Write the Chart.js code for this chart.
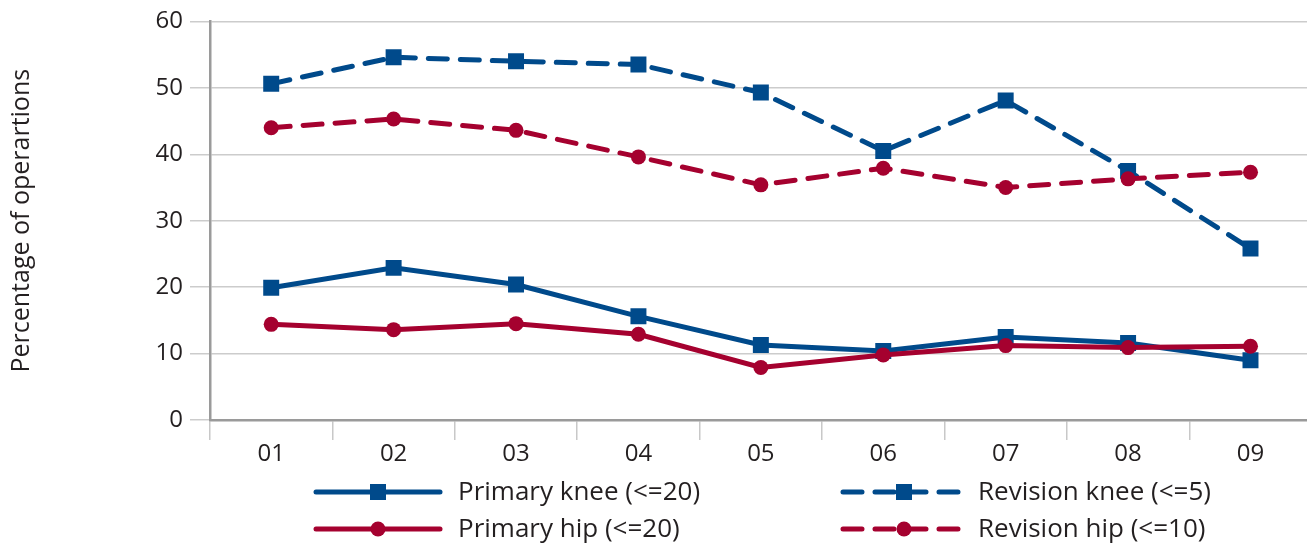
<!DOCTYPE html>

<head>
    <meta charset='UTF-8'>
    <script src="https://cdn.jsdelivr.net/npm/chart.js"></script>
    <style>
        body { margin: 0; overflow: hidden; background: #fff; }
    </style>
</head>
<title>Operations chart</title>

<body>
    <canvas id="myChart" width="1323" height="544"></canvas>
    <script>
        const years = ['01', '02', '03', '04', '05', '06', '07', '08', '09'];
        const primaryKnee = [19.9, 22.9, 20.4, 15.6, 11.3, 10.4, 12.5, 11.6, 9.0];
        const revisionKnee = [50.6, 54.6, 54.0, 53.5, 49.3, 40.5, 48.1, 37.5, 25.8];
        const primaryHip = [14.4, 13.6, 14.5, 12.9, 7.9, 9.8, 11.2, 10.9, 11.1];
        const revisionHip = [44.0, 45.3, 43.6, 39.6, 35.4, 37.9, 35.0, 36.3, 37.3];
        const seriesNames = ['Primary knee (<=20)', 'Revision knee (<=5)', 'Primary hip (<=20)', 'Revision hip (<=10)'];
        const yTitle = 'Percentage of operartions';

        const blue = '#004a8b';
        const red = '#a5012f';
        const dash = [19, 13];
        const font = "'Open Sans', 'Noto Sans', sans-serif";

        function series(label, values, color, dashed, shape, order) {
            return {
                label: label,
                data: values,
                borderColor: color,
                backgroundColor: color,
                borderWidth: 5,
                borderDash: dashed ? dash : [],
                borderCapStyle: 'round',
                pointStyle: shape,
                pointRadius: shape == 'rect' ? 11.3 : 7.5,
                pointHoverRadius: shape == 'rect' ? 11.3 : 7.5,
                pointBorderWidth: 0,
                tension: 0,
                order: order
            };
        }

        // legend drawn as two columns under the x axis
        const bottomLegend = {
            id: 'bottomLegend',
            afterDraw(chart) {
                const ctx = chart.ctx;
                const items = [
                    { x: 316, y: 492, ds: chart.data.datasets[0] },
                    { x: 843, y: 492, ds: chart.data.datasets[1] },
                    { x: 316, y: 529, ds: chart.data.datasets[2] },
                    { x: 843, y: 529, ds: chart.data.datasets[3] }
                ];
                items.forEach(it => {
                    const ds = it.ds;
                    const dashed = ds.borderDash.length > 0;
                    const len = dashed ? 115 : 124;
                    const mx = it.x + (dashed ? 61 : 62);
                    ctx.save();
                    ctx.strokeStyle = ds.borderColor;
                    ctx.lineWidth = 5;
                    ctx.lineCap = 'round';
                    ctx.setLineDash(ds.borderDash);
                    ctx.beginPath();
                    ctx.moveTo(it.x, it.y);
                    ctx.lineTo(it.x + len, it.y);
                    ctx.stroke();
                    ctx.setLineDash([]);
                    ctx.fillStyle = ds.backgroundColor;
                    ctx.beginPath();
                    if (ds.pointStyle == 'rect') {
                        const s = ds.pointRadius * Math.SQRT1_2;
                        ctx.rect(mx - s, it.y - s, 2 * s, 2 * s);
                    } else {
                        ctx.arc(mx, it.y, ds.pointRadius, 0, Math.PI * 2);
                    }
                    ctx.fill();
                    ctx.fillStyle = '#231f20';
                    ctx.font = '26px ' + font;
                    ctx.textBaseline = 'middle';
                    ctx.fillText(ds.label, it.x + (dashed ? 135 : 142), it.y + 1);
                    ctx.restore();
                });
            }
        };

        const config = {
            type: 'line',
            data: {
                labels: years,
                datasets: [
                    series(seriesNames[0], primaryKnee, blue, false, 'rect', 2),
                    series(seriesNames[1], revisionKnee, blue, true, 'rect', 2),
                    series(seriesNames[2], primaryHip, red, false, 'circle', 1),
                    series(seriesNames[3], revisionHip, red, true, 'circle', 1)
                ]
            },
            options: {
                animation: false,
                responsive: false,
                events: [],
                layout: { padding: { top: 20, left: 0, right: 0, bottom: 0 } },
                plugins: {
                    legend: { display: false },
                    tooltip: { enabled: false }
                },
                scales: {
                    x: {
                        offset: true,
                        grid: {
                            offset: true,
                            drawOnChartArea: false,
                            drawTicks: true,
                            tickLength: 20,
                            color: '#c8c8c8',
                            lineWidth: 1.5
                        },
                        border: { color: '#9a9a9a', width: 2.5 },
                        ticks: {
                            padding: 0,
                            color: '#231f20',
                            font: { family: font, size: 24 }
                        },
                        afterFit(scale) { scale.height = 124; }
                    },
                    y: {
                        min: 0,
                        max: 60,
                        ticks: {
                            stepSize: 10,
                            padding: 7,
                            color: '#231f20',
                            font: { family: font, size: 24 }
                        },
                        grid: {
                            color: '#cccccc',
                            lineWidth: 1.5,
                            tickLength: 20
                        },
                        border: { color: '#9a9a9a', width: 2.5 },
                        title: {
                            display: true,
                            text: yTitle,
                            color: '#231f20',
                            font: { family: font, size: 25 },
                            padding: { top: 7, bottom: 0 }
                        },
                        afterFit(scale) { scale.width = 210; }
                    }
                }
            },
            plugins: [bottomLegend]
        };

        const myChart = new Chart(document.getElementById('myChart'), config);
    </script>
</body>

</html>
